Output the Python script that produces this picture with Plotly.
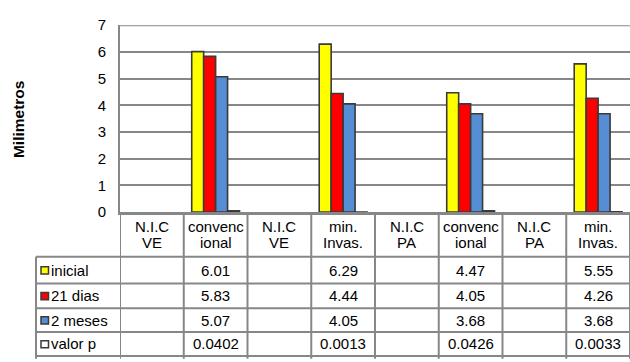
import plotly.graph_objects as go

# Column headers of the data table (two lines each)
categories = ["N.I.C\nVE", "convenc\nional", "N.I.C\nVE", "min.\nInvas.",
              "N.I.C\nPA", "convenc\nional", "N.I.C\nPA", "min.\nInvas."]

# Series values per column (empty columns have no measurement)
inicial = [None, 6.01, None, 6.29, None, 4.47, None, 5.55]
dias_21 = [None, 5.83, None, 4.44, None, 4.05, None, 4.26]
meses_2 = [None, 5.07, None, 4.05, None, 3.68, None, 3.68]
valor_p = [None, 0.0402, None, 0.0013, None, 0.0426, None, 0.0033]

series_names = ["inicial", "21 dias", "2 meses", "valor p"]
series_values = [inicial, dias_21, meses_2, valor_p]
series_colors = ["#FFFF00", "#FF0000", "#558ED5", "#FFFFFF"]

y_ticks = [0, 1, 2, 3, 4, 5, 6, 7]

W, H = 630, 362
PLOT_L, PLOT_R, PLOT_T, PLOT_B = 120, 630, 17, 213
TABLE_L = 36
ROW_LINES = [260, 288, 314, 339, 364]
GRID = "#878787"
FONT = "Liberation Sans, Arial, sans-serif"


def px_x(p):
    return p / W


def px_y(p):
    return 1 - p / H


xs = list(range(len(categories)))

fig = go.Figure()
for name, vals, col in zip(series_names, series_values, series_colors):
    fig.add_trace(go.Bar(
        x=xs, y=vals, name=name,
        marker=dict(color=col, line=dict(color="#3A3A3A", width=1.6)),
        hoverinfo="skip",
    ))

shapes = []
annotations = []

# y axis / table left line and column separators
for k in range(len(categories) + 1):
    shapes.append(dict(type="line", xref="x", yref="paper",
                       x0=k - 0.5, x1=k - 0.5,
                       y0=px_y(PLOT_B), y1=px_y(H + 5),
                       line=dict(color=GRID, width=2)))

# label column border
shapes.append(dict(type="line", xref="paper", yref="paper",
                   x0=px_x(TABLE_L), x1=px_x(TABLE_L),
                   y0=px_y(ROW_LINES[0]), y1=px_y(H + 5),
                   line=dict(color=GRID, width=2)))

# horizontal table lines
for r in ROW_LINES:
    shapes.append(dict(type="line", xref="paper", yref="paper",
                       x0=px_x(TABLE_L), x1=1.01,
                       y0=px_y(r), y1=px_y(r),
                       line=dict(color=GRID, width=2)))

# top grid line at 7
shapes.append(dict(type="line", xref="paper", yref="y",
                   x0=px_x(PLOT_L), x1=1, y0=7, y1=7,
                   line=dict(color=GRID, width=2)))

# header cells
header_mid = (PLOT_B + ROW_LINES[0]) / 2
for k, cat in enumerate(categories):
    lines = cat.split("\n")
    for j, ln in enumerate(lines):
        yc = header_mid + (j - (len(lines) - 1) / 2) * 16.5
        annotations.append(dict(x=k, y=px_y(yc), xref="x", yref="paper",
                                text=ln, showarrow=False,
                                font=dict(size=15, color="#000000", family=FONT),
                                xanchor="center", yanchor="middle"))

# data rows: legend key, label and values
for i, (name, vals, col) in enumerate(zip(series_names, series_values, series_colors)):
    y_top, y_bot = ROW_LINES[i], ROW_LINES[i + 1]
    yc = (y_top + min(y_bot, H + 2)) / 2 if i == len(series_names) - 1 else (y_top + y_bot) / 2
    shapes.append(dict(type="rect", xref="paper", yref="paper",
                       x0=px_x(41), x1=px_x(48.5),
                       y0=px_y(yc - 3.5), y1=px_y(yc + 4),
                       fillcolor=col, line=dict(color="#3A3A3A", width=1.5)))
    annotations.append(dict(x=px_x(49), y=px_y(yc), xref="paper", yref="paper",
                            text=name, showarrow=False,
                            font=dict(size=15, color="#000000", family=FONT),
                            xanchor="left", yanchor="middle"))
    for k, v in enumerate(vals):
        if v is None:
            continue
        annotations.append(dict(x=k, y=px_y(yc), xref="x", yref="paper",
                                text=str(v), showarrow=False,
                                font=dict(size=15, color="#000000", family=FONT),
                                xanchor="center", yanchor="middle"))

# axis title
annotations.append(dict(x=px_x(18.5), y=px_y(116),
                        xref="paper", yref="paper", text="<b>Milimetros</b>",
                        textangle=-90, showarrow=False,
                        font=dict(size=15.5, color="#000000", family=FONT),
                        xanchor="center", yanchor="middle"))

fig.update_layout(
    width=W, height=H,
    margin=dict(l=0, r=0, t=0, b=0),
    paper_bgcolor="#FFFFFF", plot_bgcolor="#FFFFFF",
    barmode="group", bargap=0.25, bargroupgap=0,
    showlegend=False,
    font=dict(family=FONT, size=14, color="#000000"),
    xaxis=dict(domain=[px_x(PLOT_L), 1], range=[-0.5, len(categories) - 0.5],
               showticklabels=False, showgrid=False, zeroline=False,
               showline=True, linecolor=GRID, linewidth=2.5, ticks=""),
    yaxis=dict(domain=[px_y(PLOT_B), px_y(PLOT_T)], range=[0, 7],
               tickvals=y_ticks, showgrid=True, gridcolor=GRID, gridwidth=2,
               zeroline=False, showline=True, linecolor=GRID, linewidth=2,
               ticks="", ticklabelstandoff=9,
               tickfont=dict(size=15, color="#000000", family=FONT)),
    shapes=shapes,
    annotations=annotations,
)

fig.write_html("out.html", config={"displayModeBar": False})
